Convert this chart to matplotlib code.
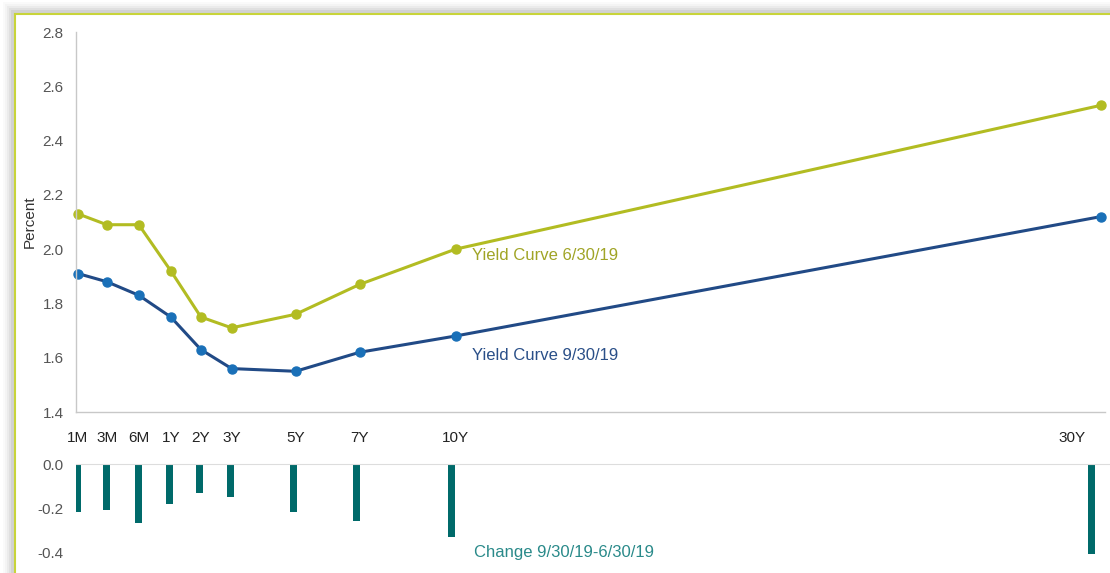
import numpy as np
import matplotlib.pyplot as plt
import matplotlib.transforms as mtrans
from matplotlib.patches import Rectangle

plt.rcParams['font.family'] = ['Liberation Sans', 'DejaVu Sans']

# maturities and their slot on the x axis (short end is spread out)
tenors = ['1M', '3M', '6M', '1Y', '2Y', '3Y', '5Y', '7Y', '10Y', '30Y']
tenor_pos = [0, 0.9, 1.9, 2.9, 3.84, 4.8, 6.8, 8.8, 11.8, 31.97]

curve_jun = [2.13, 2.09, 2.09, 1.92, 1.75, 1.71, 1.76, 1.87, 2.00, 2.53]
curve_sep = [1.91, 1.88, 1.83, 1.75, 1.63, 1.56, 1.55, 1.62, 1.68, 2.12]
change = [-0.22, -0.21, -0.27, -0.18, -0.13, -0.15, -0.22, -0.26, -0.33, -0.41]

W, H = 1110, 573
fig = plt.figure(figsize=(W / 100, H / 100), dpi=100)

def fx(px):
    return px / W

def fy(py):
    return 1 - py / H

# card shadow + green border
for i, a in enumerate([0.02, 0.025, 0.035, 0.045, 0.06]):
    off = 12 - 2 * i
    fig.patches.append(Rectangle((fx(15 - off), 0), 1, fy(14 - off), transform=fig.transFigure,
                                 facecolor='#000000', alpha=a, edgecolor='none', zorder=0))
fig.patches.append(Rectangle((fx(15), 0), 1, fy(14), transform=fig.transFigure,
                             facecolor='white', edgecolor='none', zorder=1))
fig.add_artist(plt.Line2D([fx(15), 1], [fy(14), fy(14)], color='#c8d43a', lw=1.5, zorder=2))
fig.add_artist(plt.Line2D([fx(15), fx(15)], [0, fy(14)], color='#c8d43a', lw=1.5, zorder=2))

green = '#b2bc22'
blue_line = '#214a86'
blue_dot = '#1a70b8'
teal = '#006a6a'
grey = '#c8c8c8'

# ---- top panel: yield curves
ax = fig.add_axes([fx(76), fy(412), fx(1105 - 76), fy(32) - fy(412)])
ax.set_zorder(5)
ax.patch.set_alpha(0)
ax.plot(tenor_pos, curve_jun, color=green, lw=2.2, marker='o', ms=6.5, mfc=green, mec=green, clip_on=False)
ax.plot(tenor_pos, curve_sep, color=blue_line, lw=2.2, marker='o', ms=6.5, mfc=blue_dot, mec=blue_dot, clip_on=False)
ax.set_ylim(1.4, 2.8)
ax.set_xlim((76 - 78) / 32, (1105 - 78) / 32)
ax.set_yticks(np.arange(1.4, 2.81, 0.2))
ax.set_yticklabels([f'{v:.1f}' for v in np.arange(1.4, 2.81, 0.2)])
ax.set_xticks(tenor_pos)
ax.set_xticklabels(tenors)
ax.tick_params(axis='y', length=0, pad=9, labelsize=11, labelcolor='#555555')
ax.tick_params(axis='x', length=0, pad=14, labelsize=11, labelcolor='#222222')
last = ax.get_xticklabels()[-1]
last.set_transform(last.get_transform() + mtrans.ScaledTranslation(-0.29, 0, fig.dpi_scale_trans))
for s in ['top', 'right']:
    ax.spines[s].set_visible(False)
for s in ['left', 'bottom']:
    ax.spines[s].set_color(grey)
    ax.spines[s].set_linewidth(1)
ax.set_ylabel('Percent', fontsize=11, color='#333333', labelpad=4)
ax.text(12.3, 2.005, 'Yield Curve 6/30/19', color='#a0a426', fontsize=12, va='top')
ax.text(12.3, 1.635, 'Yield Curve 9/30/19', color='#2a4f88', fontsize=12, va='top')

# ---- bottom panel: change bars
bx = fig.add_axes([fx(76), 0, fx(W - 76), fy(464)])
bx.set_zorder(5)
bx.patch.set_alpha(0)
bx.bar(tenor_pos, change, width=0.22, color=teal)
bx.set_ylim(-0.495, 0)
bx.set_xlim((76 - 78) / 31.69, (W - 78) / 31.69)
bx.set_yticks([0, -0.2, -0.4])
bx.set_yticklabels(['0.0', '-0.2', '-0.4'])
bx.set_xticks([])
bx.tick_params(axis='y', length=0, pad=9, labelsize=11, labelcolor='#555555')
for s in ['left', 'right', 'bottom']:
    bx.spines[s].set_visible(False)
bx.spines['top'].set_color('#dddddd')
bx.text(12.5, -0.4, 'Change 9/30/19-6/30/19', color='#2a8a8a', fontsize=12, va='center')

fig.savefig('out.png', dpi=100)
